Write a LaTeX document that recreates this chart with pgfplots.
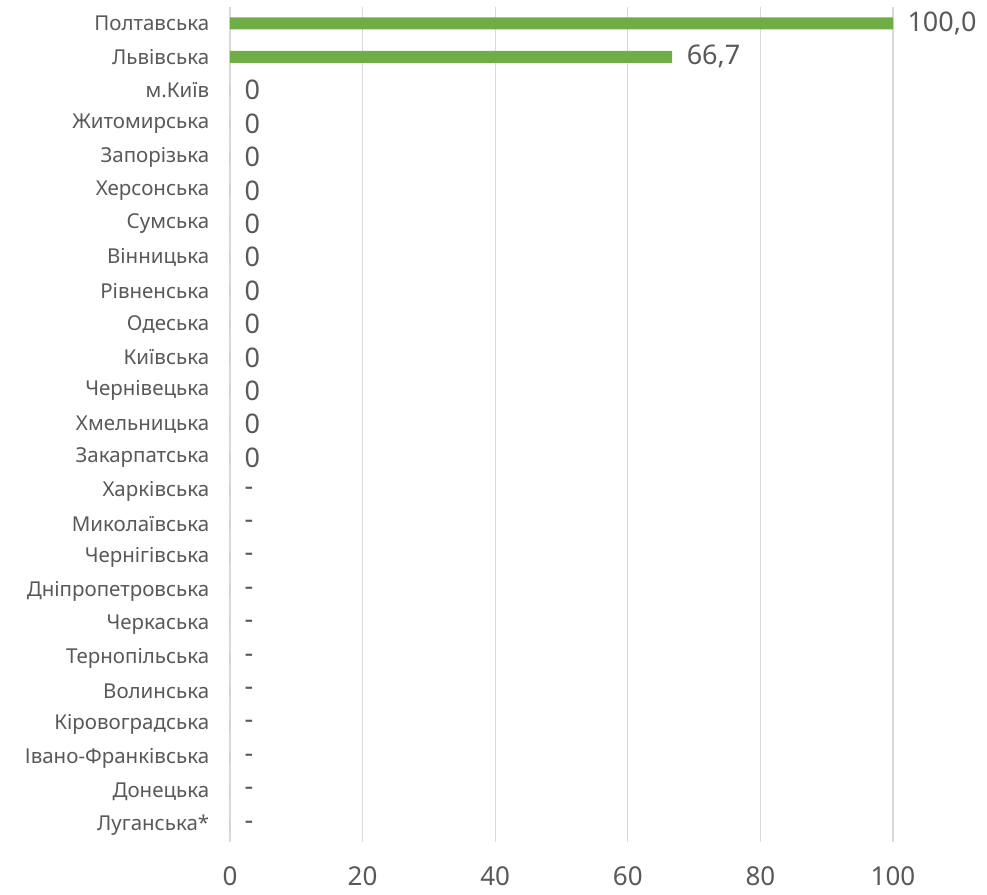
\documentclass[border=0pt]{standalone}
\usepackage{fontspec}
\setmainfont{Noto Sans}
\usepackage{pgfplots}
\pgfplotsset{compat=1.18}
\definecolor{barg}{HTML}{70AD47}
\definecolor{gridg}{HTML}{D9D9D9}
\definecolor{txt}{HTML}{595959}
\begin{document}
\begin{tikzpicture}[x=1pt,y=1pt]
\useasboundingbox (-230,-52.3) rectangle (757,841.7);
\begin{axis}[
  at={(0,0)}, anchor=south west,
  scale only axis, width=663pt, height=835pt,
  xmin=0, xmax=100, ymin=-0.5, ymax=24.5, y dir=reverse,
  xbar, bar width=12pt, bar shift=0pt,
  xtick={0,20,...,100}, ytick={0,...,24},
  yticklabels={Полтавська,Львівська,м.Київ,Житомирська,Запорізька,Херсонська,Сумська,Вінницька,Рівненська,Одеська,Київська,Чернівецька,Хмельницька,Закарпатська,Харківська,Миколаївська,Чернігівська,Дніпропетровська,Черкаська,Тернопільська,Волинська,Кіровоградська,Івано-Франківська,Донецька,Луганська*},
  xmajorgrids, major grid style={gridg, line width=1.2pt},
  axis line style={draw=none}, tick style={draw=none},
  /pgf/number format/assume math mode=true,
  xticklabel style={font=\fontsize{26}{26}\selectfont, text=txt, yshift=-21pt},
  yticklabel style={font=\fontsize{20.5}{20.5}\selectfont, text=txt, xshift=-13pt},
  point meta=explicit symbolic,
  nodes near coords,
  nodes near coords style={font=\fontsize{27}{27}\selectfont, text=txt, anchor=west, xshift=11pt},
]
\addplot[fill=barg, draw=none] coordinates {
  (100,0) [100,0]
  (66.7,1) [66,7]
  (0,2) [0] (0,3) [0] (0,4) [0] (0,5) [0] (0,6) [0] (0,7) [0]
  (0,8) [0] (0,9) [0] (0,10) [0] (0,11) [0] (0,12) [0] (0,13) [0]
  (0,14) [-] (0,15) [-] (0,16) [-] (0,17) [-] (0,18) [-] (0,19) [-]
  (0,20) [-] (0,21) [-] (0,22) [-] (0,23) [-] (0,24) [-]
};
\end{axis}
\end{tikzpicture}
\end{document}
